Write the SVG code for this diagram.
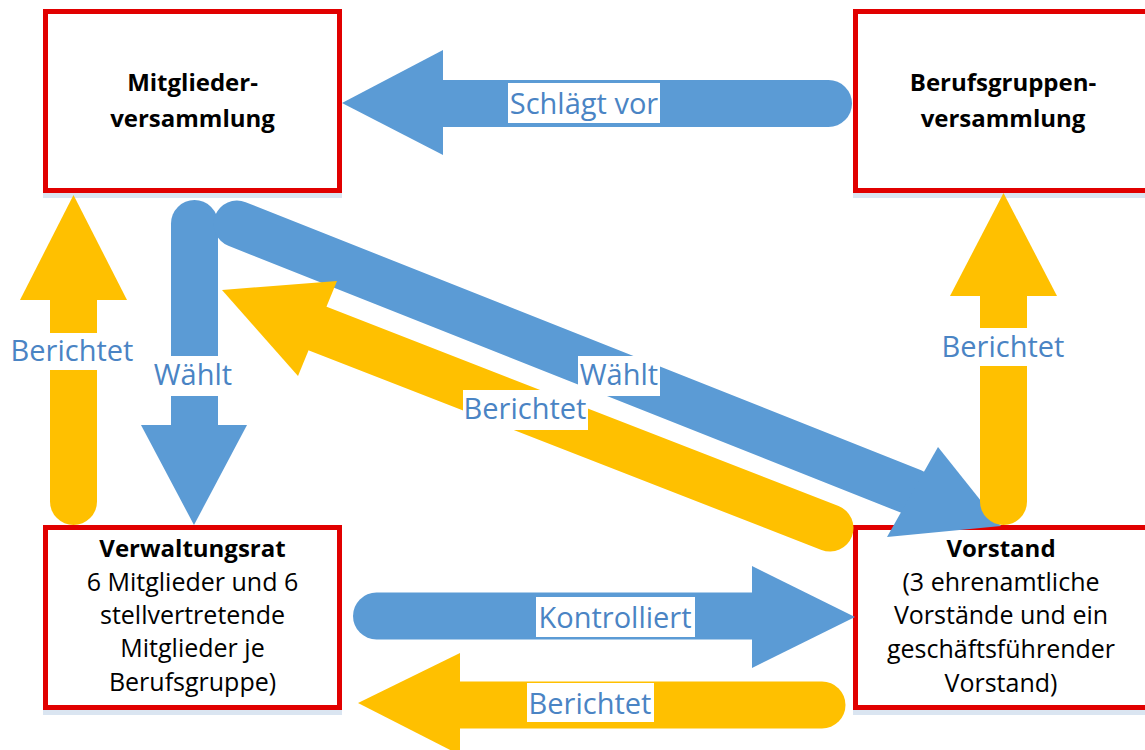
<svg xmlns="http://www.w3.org/2000/svg" width="1145" height="750" viewBox="0 0 1145 750">
<style>
.box{fill:#fff;stroke:#E10000;stroke-width:5}
.refl{fill:#DAE5F1}
.nt{font-family:"Open Sans","Liberation Sans",sans-serif;font-size:25px;fill:#000;text-anchor:middle}
.nb{font-weight:bold;font-size:24px}
.sb{stroke:#5B9BD5;stroke-width:47;stroke-linecap:round;fill:none}
.so{stroke:#FFC000;stroke-width:47;stroke-linecap:round;fill:none}
.hb{fill:#5B9BD5}
.ho{fill:#FFC000}
.lbg{fill:#fff}
.lt{font-family:"Open Sans","Liberation Sans",sans-serif;font-size:29px;fill:#4A84C4;text-anchor:middle}
</style>
<rect width="1145" height="750" fill="#fff"/>
<g id="mitgliederversammlung">
<rect class="refl" x="43" y="193" width="299" height="5"/>
<rect class="box" x="45.5" y="11.5" width="294" height="179"/>
<text class="nt nb" x="192.5" y="91">Mitglieder-</text>
<text class="nt nb" x="192.5" y="127">versammlung</text>
</g>
<g id="berufsgruppenversammlung">
<rect class="refl" x="853" y="193" width="300" height="5"/>
<rect class="box" x="855.5" y="11.5" width="295" height="179"/>
<text class="nt nb" x="1003" y="91">Berufsgruppen-</text>
<text class="nt nb" x="1003" y="127">versammlung</text>
</g>
<g id="verwaltungsrat">
<rect class="refl" x="43" y="710" width="299" height="5"/>
<rect class="box" x="45.5" y="527.5" width="294" height="180"/>
<text class="nt nb" x="192.5" y="557">Verwaltungsrat</text>
<text class="nt" x="192.5" y="591">6 Mitglieder und 6</text>
<text class="nt" x="192.5" y="624">stellvertretende</text>
<text class="nt" x="192.5" y="657">Mitglieder je</text>
<text class="nt" x="192.5" y="691">Berufsgruppe)</text>
</g>
<g id="vorstand">
<rect class="refl" x="853" y="710" width="300" height="5"/>
<rect class="box" x="855.5" y="527.5" width="295" height="180"/>
<text class="nt nb" x="1001" y="557">Vorstand</text>
<text class="nt" x="1001" y="591">(3 ehrenamtliche</text>
<text class="nt" x="1001" y="624">Vorstände und ein</text>
<text class="nt" x="1001" y="658">geschäftsführender</text>
<text class="nt" x="1001" y="692">Vorstand)</text>
</g>
<g id="connectors">
<g id="schlaegt-vor">
<line class="sb" x1="828.5" y1="103.5" x2="443" y2="103.5"/>
<polygon class="hb" points="443,50 443,155 342,103"/>
</g>
<g id="waehlt-down">
<line class="sb" x1="194.5" y1="223.5" x2="194.5" y2="425"/>
<polygon class="hb" points="141,425 247,425 194,525"/>
</g>
<g id="waehlt-diag">
<line class="sb" x1="237" y1="224" x2="912.5" y2="492"/>
<polygon class="hb" points="938,447 887,537 1001,526"/>
</g>
<g id="kontrolliert">
<line class="sb" x1="376.5" y1="616" x2="752" y2="616"/>
<polygon class="hb" points="752,566 752,668 855,617"/>
</g>
<g id="berichtet-left">
<line class="so" x1="73.5" y1="501.5" x2="73.5" y2="300"/>
<polygon class="ho" points="20,300 127,300 73.5,195"/>
</g>
<g id="berichtet-diag">
<line class="so" x1="830" y1="528" x2="317.5" y2="328.5"/>
<polygon class="ho" points="337,281 298,376 222,290"/>
</g>
<g id="berichtet-right">
<line class="so" x1="1003.5" y1="501.5" x2="1003.5" y2="296"/>
<polygon class="ho" points="950,296 1057,296 1003.5,193"/>
</g>
<g id="berichtet-bottom">
<line class="so" x1="822" y1="705" x2="460" y2="705"/>
<polygon class="ho" points="460,653 460,755 358,703"/>
</g>
<g id="labels">
<rect class="lbg" x="508" y="83" width="152" height="40"/>
<text class="lt" x="584" y="114">Schlägt vor</text>
<rect class="lbg" x="8" y="333" width="128" height="37"/>
<text class="lt" x="72" y="361">Berichtet</text>
<rect class="lbg" x="150" y="356" width="86" height="40"/>
<text class="lt" x="193" y="385">Wählt</text>
<rect class="lbg" x="578" y="356" width="82" height="40"/>
<text class="lt" x="619" y="385">Wählt</text>
<rect class="lbg" x="463" y="390" width="125" height="40"/>
<text class="lt" x="525" y="419">Berichtet</text>
<rect class="lbg" x="940" y="328" width="127" height="38"/>
<text class="lt" x="1003" y="357">Berichtet</text>
<rect class="lbg" x="536" y="597" width="159" height="40"/>
<text class="lt" x="615" y="628">Kontrolliert</text>
<rect class="lbg" x="527" y="683" width="127" height="39"/>
<text class="lt" x="590" y="714">Berichtet</text>
</g>
</g>
</svg>
